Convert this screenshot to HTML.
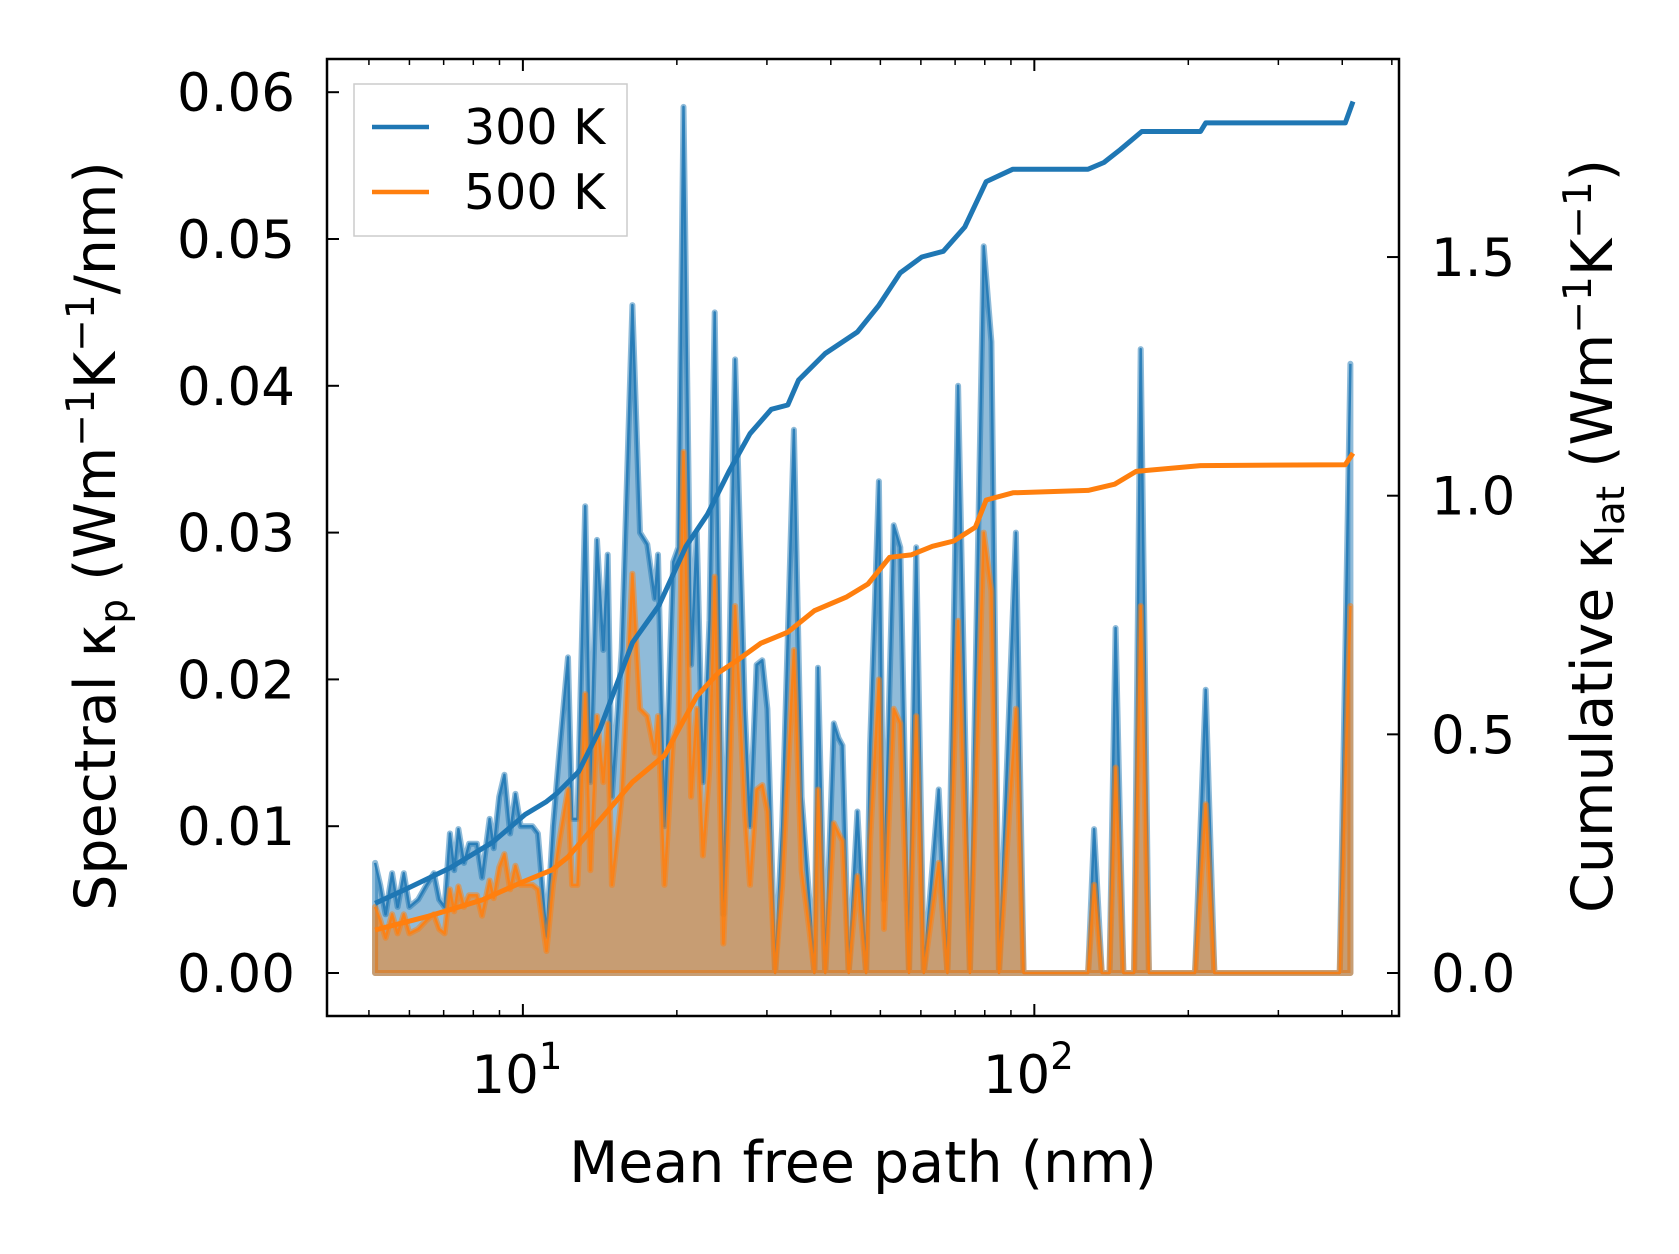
<!DOCTYPE html>
<html><head><meta charset="utf-8"><style>
html,body{margin:0;padding:0;background:#fff}
svg{display:block;font-family:"DejaVu Sans","Liberation Sans",sans-serif}
</style></head><body>
<svg id="chart" width="1679" height="1254" viewBox="0 0 1679 1254" xmlns="http://www.w3.org/2000/svg">
<rect width="1679" height="1254" fill="#fff"/>
<g id="plot"></g>
<rect x="327" y="59" width="1072" height="957" fill="none" stroke="#000" stroke-width="2.5"/>
<g id="ticks"></g>
<g>
<rect x="354" y="84" width="273" height="152" fill="#fff" fill-opacity="0.8" stroke="#ccc" stroke-width="1.5"/>
<line x1="372" y1="127" x2="429" y2="127" stroke="#1f77b4" stroke-width="4.5"/>
<text x="464" y="144" font-size="49">300 K</text>
<line x1="372" y1="192" x2="429" y2="192" stroke="#ff7f0e" stroke-width="4.5"/>
<text x="464" y="209" font-size="49">500 K</text>
</g>
<text x="863" y="1182" font-size="57" text-anchor="middle">Mean free path (nm)</text>
<text transform="translate(115,536) rotate(-90)" font-size="57" text-anchor="middle">Spectral κ<tspan font-size="39" dy="12">p</tspan><tspan dy="-12"> (Wm</tspan><tspan font-size="39" dy="-21">−1</tspan><tspan dy="21">K</tspan><tspan font-size="39" dy="-21">−1</tspan><tspan dy="21">/nm)</tspan></text>
<text transform="translate(1612,536) rotate(-90)" font-size="57" text-anchor="middle">Cumulative κ<tspan font-size="39" dy="12">lat</tspan><tspan dy="-12"> (Wm</tspan><tspan font-size="39" dy="-21">−1</tspan><tspan dy="21">K</tspan><tspan font-size="39" dy="-21">−1</tspan><tspan dy="21">)</tspan></text>
</svg>
<script>
const mfp = [5.14,5.26,5.39,5.55,5.69,5.85,6.00,6.24,6.48,6.70,6.86,7.03,7.20,7.34,7.48,7.67,7.85,8.13,8.32,8.61,8.77,8.99,9.20,9.44,9.67,9.90,10.19,10.44,10.70,11.12,11.45,11.78,12.25,12.48,12.79,13.24,13.55,13.96,14.36,14.65,14.93,15.60,16.37,16.94,17.51,18.11,18.37,18.92,19.67,20.14,20.61,21.33,21.88,22.49,23.17,23.72,24.66,25.29,26.00,27.16,27.80,28.64,29.38,30.06,31.12,32.14,33.88,35.07,36.31,37.15,37.76,39.00,40.55,41.4,42.17,43.36,45.08,46.88,47.75,49.66,50.82,53.09,54.70,56.89,58.75,60.81,65.01,67.61,70.96,74.82,79.62,82.41,85.31,92.04,95.28,127.4,130.9,135.5,140.3,144.2,149.3,156.7,161.4,167.5,206.1,216.3,224.9,395.4,415.0];
const spec300 = [.0075,.006,.004,.0068,.0045,.0068,.0045,.005,.006,.0068,.005,.0045,.0095,.007,.0098,.0075,.0088,.0088,.0065,.0105,.0085,.012,.0135,.0095,.0122,.010,.010,.010,.0095,.0025,.010,.015,.0215,.0105,.0105,.0318,.013,.0295,.022,.0285,.012,.022,.0455,.030,.0292,.0255,.0285,.010,.028,.029,.059,.021,.030,.013,.024,.045,.004,.020,.0418,.018,.010,.021,.0213,.018,0,.010,.037,.012,.005,0,.0208,0,.017,.016,.0155,0,.011,0,.0155,.0335,.005,.0305,.029,0,.029,0,.0125,0,.040,0,.0495,.043,0,.030,0,0,.0098,0,0,.0235,0,0,.0425,0,0,.0193,0,0,.0415];
const spec500 = [.0045,.0036,.0024,.004,.0027,.004,.0027,.003,.0036,.004,.003,.0027,.0057,.0042,.0059,.0045,.0053,.0053,.0039,.0063,.0051,.0072,.0081,.0057,.0073,.006,.006,.006,.0057,.0015,.006,.009,.0125,.006,.006,.019,.007,.0175,.013,.017,.006,.012,.0272,.018,.0175,.015,.0175,.006,.016,.017,.0355,.012,.018,.008,.014,.027,.002,.012,.025,.011,.006,.0125,.0128,.011,0,.006,.022,.007,.003,0,.0125,0,.0102,.0095,.009,0,.0066,0,.009,.020,.003,.018,.017,0,.0175,0,.0075,0,.024,0,.030,.026,0,.018,0,0,.006,0,0,.014,0,0,.025,0,0,.0115,0,0,.025];
const cumX300 = [5.14,5.94,7.20,8.73,10.10,11.12,11.67,12.85,14.16,16.37,18.45,20.84,22.96,25.29,27.80,30.6,32.96,34.59,39.00,45.08,49.66,54.70,60.26,66.37,73.11,80.5,90.8,127.4,136.8,147.2,162.2,211.3,216.3,405.5,419.8];
const cum300 = [.146,.177,.220,.274,.332,.359,.377,.422,.512,.692,.770,.894,.961,1.051,1.130,1.181,1.190,1.242,1.298,1.343,1.399,1.467,1.500,1.512,1.563,1.658,1.684,1.684,1.698,1.725,1.763,1.763,1.781,1.781,1.826];
const cumX500 = [5.14,6.54,8.32,10.10,11.40,12.25,14.16,16.37,18.92,21.88,24.10,26.49,29.2,32.96,37.15,42.96,47.3,52.12,57.4,63.2,69.6,76.7,80.5,90.8,127.4,143.6,158.1,211.3,405.5,419.8];
const cum500 = [.090,.119,.153,.193,.216,.243,.321,.400,.456,.580,.629,.658,.691,.714,.759,.788,.815,.871,.876,.894,.905,.934,.991,1.006,1.011,1.024,1.051,1.063,1.065,1.089];
const leftTicks = [0,0.01,0.02,0.03,0.04,0.05,0.06];
const leftTickLabels = ["0.00","0.01","0.02","0.03","0.04","0.05","0.06"];
const rightTicks = [0,0.5,1.0,1.5];
const rightTickLabels = ["0.0","0.5","1.0","1.5"];
const xMajor = [10,100];

const NS="http://www.w3.org/2000/svg";
const X0=327,X1=1399,Y0=59,Y1=1016;
const LX0=0.617,LX1=2.713;
const sx=v=>X0+(Math.log10(v)-LX0)/(LX1-LX0)*(X1-X0);
const syL=v=>973-v*14680;
const syR=v=>973-v*477.3;
function mk(tag,attrs,parent){const e=document.createElementNS(NS,tag);for(const k in attrs)e.setAttribute(k,attrs[k]);parent.appendChild(e);return e;}
const plot=document.getElementById('plot');
const ticks=document.getElementById('ticks');
const clip=mk('clipPath',{id:'cp'},mk('defs',{},plot));
mk('rect',{x:X0,y:Y0,width:X1-X0,height:Y1-Y0},clip);
const g=mk('g',{'clip-path':'url(#cp)'},plot);

function spectral(vals,color,name){
  let d='M'+sx(mfp[0])+','+syL(0);
  mfp.forEach((m,i)=>{d+=' L'+sx(m).toFixed(1)+','+syL(vals[i]).toFixed(1);});
  d+=' L'+sx(mfp[mfp.length-1])+','+syL(0)+' Z';
  const a=mk('path',{d:d,fill:color,'fill-opacity':0.5,stroke:color,'stroke-opacity':0.5,'stroke-width':6,'stroke-linejoin':'round'},g);
  
  
  let l='';
  mfp.forEach((m,i)=>{l+=(i?' L':'M')+sx(m).toFixed(1)+','+syL(vals[i]).toFixed(1);});
  const p=mk('path',{d:l,fill:'none',stroke:color,'stroke-width':2.5,'stroke-opacity':0.85,'stroke-linejoin':'round'},g);
  
  
}
spectral(spec300,'#1f77b4','spectral-300k');
spectral(spec500,'#ff7f0e','spectral-500k');
function cum(xs,vals,color,name){
  let l='';
  xs.forEach((m,i)=>{l+=(i?' L':'M')+sx(m).toFixed(1)+','+syR(vals[i]).toFixed(1);});
  const p=mk('path',{d:l,fill:'none',stroke:color,'stroke-width':5,'stroke-linejoin':'round'},g);
  
  
}
cum(cumX300,cum300,'#1f77b4','cumulative-300k');
cum(cumX500,cum500,'#ff7f0e','cumulative-500k');

leftTicks.forEach((v,i)=>{
  const y=syL(v);
  mk('line',{x1:X0,x2:X0+12,y1:y,y2:y,stroke:'#000','stroke-width':2},ticks);
  const t=mk('text',{x:295,y:y+19,'font-size':53,'text-anchor':'end'},ticks);
  t.textContent=leftTickLabels[i];
  
  
});
rightTicks.forEach((v,i)=>{
  const y=syR(v);
  mk('line',{x1:X1,x2:X1-12,y1:y,y2:y,stroke:'#000','stroke-width':2},ticks);
  const t=mk('text',{x:1431,y:y+19,'font-size':53,'text-anchor':'start'},ticks);
  t.textContent=rightTickLabels[i];
  
  
});
for(let dec=1;dec<=1000;dec*=10){
  for(let k=1;k<=9;k++){
    const v=dec*k; const x=sx(v);
    if(x<X0||x>X1) continue;
    const len=k===1?12:6;
    mk('line',{x1:x,x2:x,y1:Y1,y2:Y1-len,stroke:'#000','stroke-width':k===1?2:1.5},ticks);
    mk('line',{x1:x,x2:x,y1:Y0,y2:Y0+len,stroke:'#000','stroke-width':k===1?2:1.5},ticks);
  }
}
xMajor.forEach(v=>{
  const x=sx(v);
  const t=mk('text',{x:x-6,y:1093,'font-size':53,'text-anchor':'middle'},ticks);
  
  
  t.textContent='10';
  const s=mk('tspan',{'font-size':37,dy:-24},t);
  s.textContent=String(Math.round(Math.log10(v)));
});
</script>
</body></html>
